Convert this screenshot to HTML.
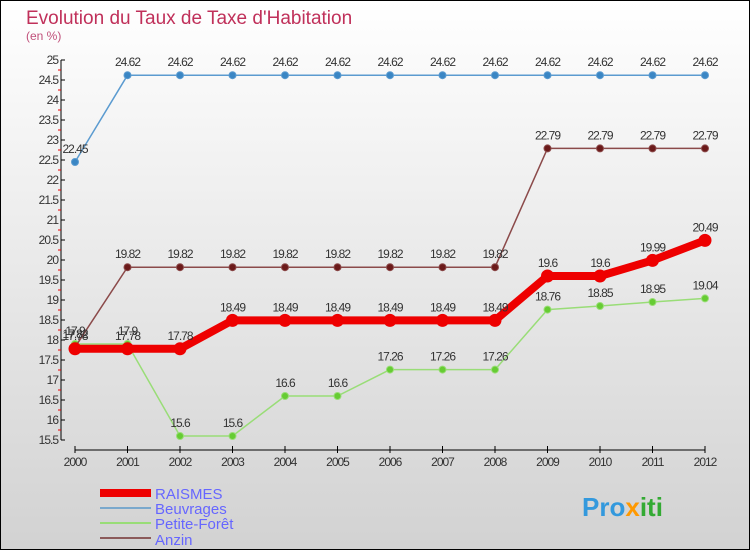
<!DOCTYPE html>
<html><head><meta charset="utf-8"><style>
body{margin:0}
#c{width:750px;height:550px;position:relative;box-sizing:border-box;border:1px solid #000;background:linear-gradient(#ffffff,#d2d2d2);font-family:"Liberation Sans",sans-serif;overflow:hidden}
</style></head><body>
<div id="c">
<svg id="s" width="750" height="550" style="position:absolute;left:-1px;top:-1px">
<text x="26" y="24" font-size="19" fill="#c0305a">Evolution du Taux de Taxe d'Habitation</text>
<text x="26" y="40" font-size="12" fill="#c0507a">(en %)</text>
<g id="ax"></g><g id="ser"></g>
<g>
<rect x="100" y="489" width="51" height="8" fill="#e00"/>
<text x="155" y="499" font-size="15" fill="#6666ff">RAISMES</text>
<rect x="100" y="507" width="51" height="2" fill="#7aa8cc"/>
<text x="155" y="514" font-size="15" fill="#6666ff">Beuvrages</text>
<rect x="100" y="522" width="51" height="2" fill="#99dd77"/>
<text x="155" y="529" font-size="15" fill="#6666ff">Petite-Forêt</text>
<rect x="100" y="537" width="51" height="2" fill="#8b5a5a"/>
<text x="155" y="545" font-size="15" fill="#6666ff">Anzin</text>
</g>
<text x="582" y="516" font-size="26" font-weight="bold" fill="#3399dd">Pro<tspan fill="#ff9900">x</tspan><tspan fill="#33aa33">iti</tspan></text>
</svg>
</div>
<script>
const years=[2000,2001,2002,2003,2004,2005,2006,2007,2008,2009,2010,2011,2012];
const raismes=[17.78,17.78,17.78,18.49,18.49,18.49,18.49,18.49,18.49,19.6,19.6,19.99,20.49];
const beuvrages=[22.45,24.62,24.62,24.62,24.62,24.62,24.62,24.62,24.62,24.62,24.62,24.62,24.62];
const petite=[17.9,17.9,15.6,15.6,16.6,16.6,17.26,17.26,17.26,18.76,18.85,18.95,19.04];
const anzin=[17.82,19.82,19.82,19.82,19.82,19.82,19.82,19.82,19.82,22.79,22.79,22.79,22.79];
const yTicks=[15.5,16,16.5,17,17.5,18,18.5,19,19.5,20,20.5,21,21.5,22,22.5,23,23.5,24,24.5,25];
const NS="http://www.w3.org/2000/svg";
const X=i=>75+i*52.5, Y=v=>60+(25-v)*40;
function mk(p,t,a){const e=document.createElementNS(NS,t);for(const k in a)e.setAttribute(k,a[k]);p.appendChild(e);return e;}
const ax=document.getElementById('ax'), ser=document.getElementById('ser');
let e=mk(ax,'line',{x1:61,y1:60,x2:61,y2:440,stroke:'#000'});


e=mk(ax,'line',{x1:75,y1:450,x2:705,y2:450,stroke:'#000'});


yTicks.forEach(v=>{
  mk(ax,'line',{x1:61,y1:Y(v),x2:65,y2:Y(v),stroke:'#000'});
  if(v>15.5) mk(ax,'line',{x1:58,y1:Y(v)+10,x2:61,y2:Y(v)+10,stroke:'#e00'});
  const t=mk(ax,'text',{x:58,y:Y(v)+4,'font-size':12,'text-anchor':'end',fill:'#333','letter-spacing':'-1'});
  t.textContent=v;
  
  
});
years.forEach((y,i)=>{
  mk(ax,'line',{x1:X(i),y1:446,x2:X(i),y2:453,stroke:'#000'});
  const t=mk(ax,'text',{x:X(i),y:466,'font-size':12,'text-anchor':'middle',fill:'#333','letter-spacing':'-1'});
  t.textContent=y;
  
  
});
function draw(name,arr,color,w,r,dot){
  const g=mk(ser,'g',{});
  
  
  mk(g,'polyline',{points:arr.map((v,i)=>X(i)+','+Y(v)).join(' '),fill:'none',stroke:color,'stroke-width':w,'stroke-linejoin':'round'});
  arr.forEach((v,i)=>{
    const c=mk(g,'circle',{cx:X(i),cy:Y(v),r:r,fill:dot,stroke:color});
    
    
    const t=mk(g,'text',{x:X(i),y:Y(v)-9,'font-size':12,'text-anchor':'middle',fill:'#333','letter-spacing':'-1'});
    t.textContent=v;
    
    
  });
}
draw('beuvrages',beuvrages,'#5b9bd0',1.5,3.5,'#3a86c4');
draw('petite-foret',petite,'#99dd77',1.5,3.5,'#66cc33');
draw('anzin',anzin,'#8b4a4a',1.5,3.5,'#6b1a1a');
draw('raismes',raismes,'#ee0000',8,6,'#ee0000');
</script>
</body></html>
